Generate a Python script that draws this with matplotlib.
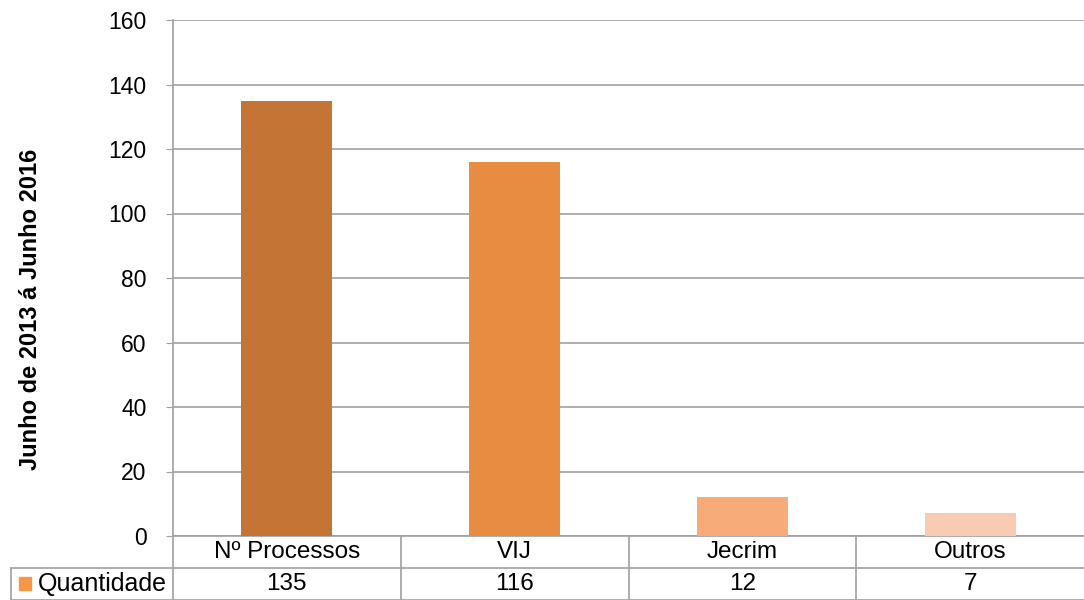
import matplotlib.pyplot as plt
from matplotlib.lines import Line2D
from matplotlib.patches import Rectangle

plt.rcParams['font.family'] = ['Liberation Sans', 'DejaVu Sans']

categorias = ["Nº Processos", "VIJ", "Jecrim", "Outros"]
quantidade = [135, 116, 12, 7]
cores = ["#C47535", "#E88C42", "#F6AB79", "#F8CBB2"]
serie = "Quantidade"
yticks = [0, 20, 40, 60, 80, 100, 120, 140, 160]

W, H = 1084, 600
fig = plt.figure(figsize=(W / 100, H / 100), dpi=100)
ax = fig.add_axes([173 / W, 64 / H, 911 / W, 516 / H])

grid = "#A0A0A0"
x = range(len(categorias))
ax.bar(x, quantidade, width=0.4, color=cores, zorder=3)
ax.set_xlim(-0.5, len(categorias) - 0.5)
ax.set_ylim(0, 160)
ax.set_yticks(yticks)
ax.tick_params(axis='y', labelsize=16.5, length=5, color=grid, pad=14)
ax.set_xticks([])
ax.yaxis.grid(True, color=grid, linewidth=1.2, zorder=0)
for s in ["top", "right", "bottom"]:
    ax.spines[s].set_visible(False)
ax.spines["left"].set_color(grid)
ax.spines["left"].set_linewidth(1.2)
fig.text(31 / W, 1 - 309 / H, "Junho de 2013 á Junho 2016", rotation=90,
         ha="center", va="center", fontsize=17, fontweight="bold")

# tabela de dados
row = 32 / 516
tr = ax.get_xaxis_transform()
lw = 1.2
xl = -0.5 - 162 / 227.75
ax.add_line(Line2D([-0.5, 3.5], [0, 0], transform=tr, color=grid, lw=lw, clip_on=False))
ax.add_line(Line2D([xl, 3.5], [-row, -row], transform=tr, color=grid, lw=lw, clip_on=False))
ax.add_line(Line2D([xl, 3.5], [-2 * row, -2 * row], transform=tr, color=grid, lw=lw, clip_on=False))
for b in [-0.5, 0.5, 1.5, 2.5]:
    ax.add_line(Line2D([b, b], [0, -2 * row], transform=tr, color=grid, lw=lw, clip_on=False))
ax.add_line(Line2D([xl, xl], [-row, -2 * row], transform=tr, color=grid, lw=lw, clip_on=False))

for i, (c, v) in enumerate(zip(categorias, quantidade)):
    ax.text(i, -row / 2, c, transform=tr, ha="center", va="center", fontsize=17.5)
    ax.text(i, -1.5 * row, str(v), transform=tr, ha="center", va="center", fontsize=17.5)

# legenda na tabela
ax.add_patch(Rectangle((xl + 8 / 227.75, -1.5 * row - 6 / 516), 12 / 227.75, 13 / 516,
                       transform=tr, color="#F79646", clip_on=False))
ax.text(xl + 27 / 227.75, -1.5 * row, serie, transform=tr, ha="left", va="center", fontsize=18)

fig.savefig("out.png", dpi=100)
